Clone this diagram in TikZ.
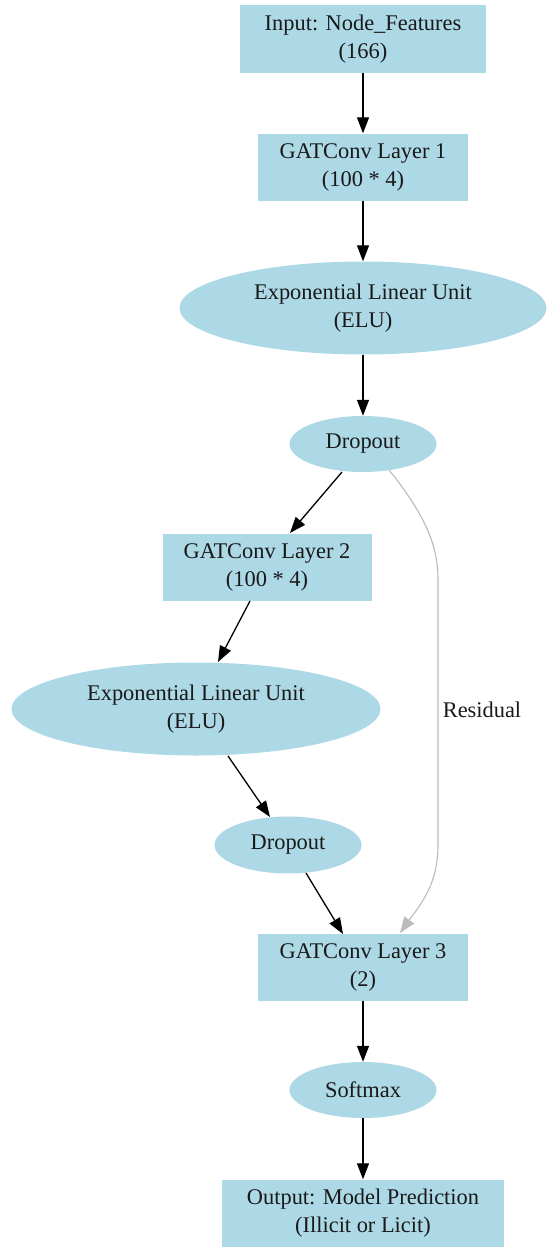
\documentclass[tikz,border=0pt]{standalone}
\usepackage{fontspec}
\setmainfont{Liberation Serif}
\usetikzlibrary{shapes.geometric,arrows.meta}
\definecolor{lblue}{HTML}{ADD8E6}
\definecolor{resgray}{HTML}{BBBBBB}
\begin{document}
\begin{tikzpicture}[x=1pt,y=-1pt,
  base/.style={fill=lblue,draw=none,inner sep=0pt,align=center,font=\fontsize{22.4}{28}\selectfont,text=black!90},
  rbox/.style={base,rectangle,minimum height=67pt},
  ell/.style={base,ellipse},
  flow/.style={-{Triangle[length=16pt,width=12pt]},line width=1.3pt,black},
  res/.style={-{Triangle[length=16pt,width=12pt]},line width=1.1pt,resgray}]
\useasboundingbox (0,0) rectangle (547,1247);
\node[rbox,minimum width=246pt,minimum height=68pt] (in) at (363,39) {Input: Node\_Features\\(166)};
\node[rbox,minimum width=210pt] (g1) at (363,167) {GATConv Layer 1\\(100 * 4)};
\node[ell,minimum width=367pt,minimum height=93pt] (e1) at (363,308) {Exponential Linear Unit\\(ELU)};
\node[ell,minimum width=147pt,minimum height=56pt] (d1) at (363,444) {Dropout};
\node[rbox,minimum width=209pt] (g2) at (267,567) {GATConv Layer 2\\(100 * 4)};
\node[ell,minimum width=369pt,minimum height=93pt] (e2) at (196,709) {Exponential Linear Unit\\(ELU)};
\node[ell,minimum width=147pt,minimum height=57pt] (d2) at (288,845) {Dropout};
\node[rbox,minimum width=210pt] (g3) at (363,967) {GATConv Layer 3\\(2)};
\node[ell,minimum width=147pt,minimum height=56pt] (sm) at (363,1090) {Softmax};
\node[rbox,minimum width=282pt] (out) at (363,1213) {Output: Model Prediction\\(Illicit or Licit)};
\coordinate (r1) at (438,580);
\coordinate (r2) at (438,845);
\coordinate (rend) at (400,933);
\coordinate (s12) at (342,472);
\coordinate (t12) at (290,533);
\coordinate (s23) at (250,601);
\coordinate (t23) at (218,662);
\coordinate (s34) at (228,756);
\coordinate (t34) at (270,817);
\coordinate (s45) at (306,873);
\coordinate (t45) at (343,934);
\draw[flow] (in) -- (g1);
\draw[flow] (g1) -- (e1);
\draw[flow] (e1) -- (d1);
\draw[flow] (s12) -- (t12);
\draw[flow] (s23) -- (t23);
\draw[flow] (s34) -- (t34);
\draw[flow] (s45) -- (t45);
\draw[flow] (g3) -- (sm);
\draw[flow] (sm) -- (out);
\draw[res] (d1.-45) .. controls (425,515) and (438,545) .. (r1) -- (r2) .. controls (438,885) and (420,905) .. (rend);
\node[base,fill=none] (rl) at (482,710) {Residual};
\end{tikzpicture}
\end{document}
